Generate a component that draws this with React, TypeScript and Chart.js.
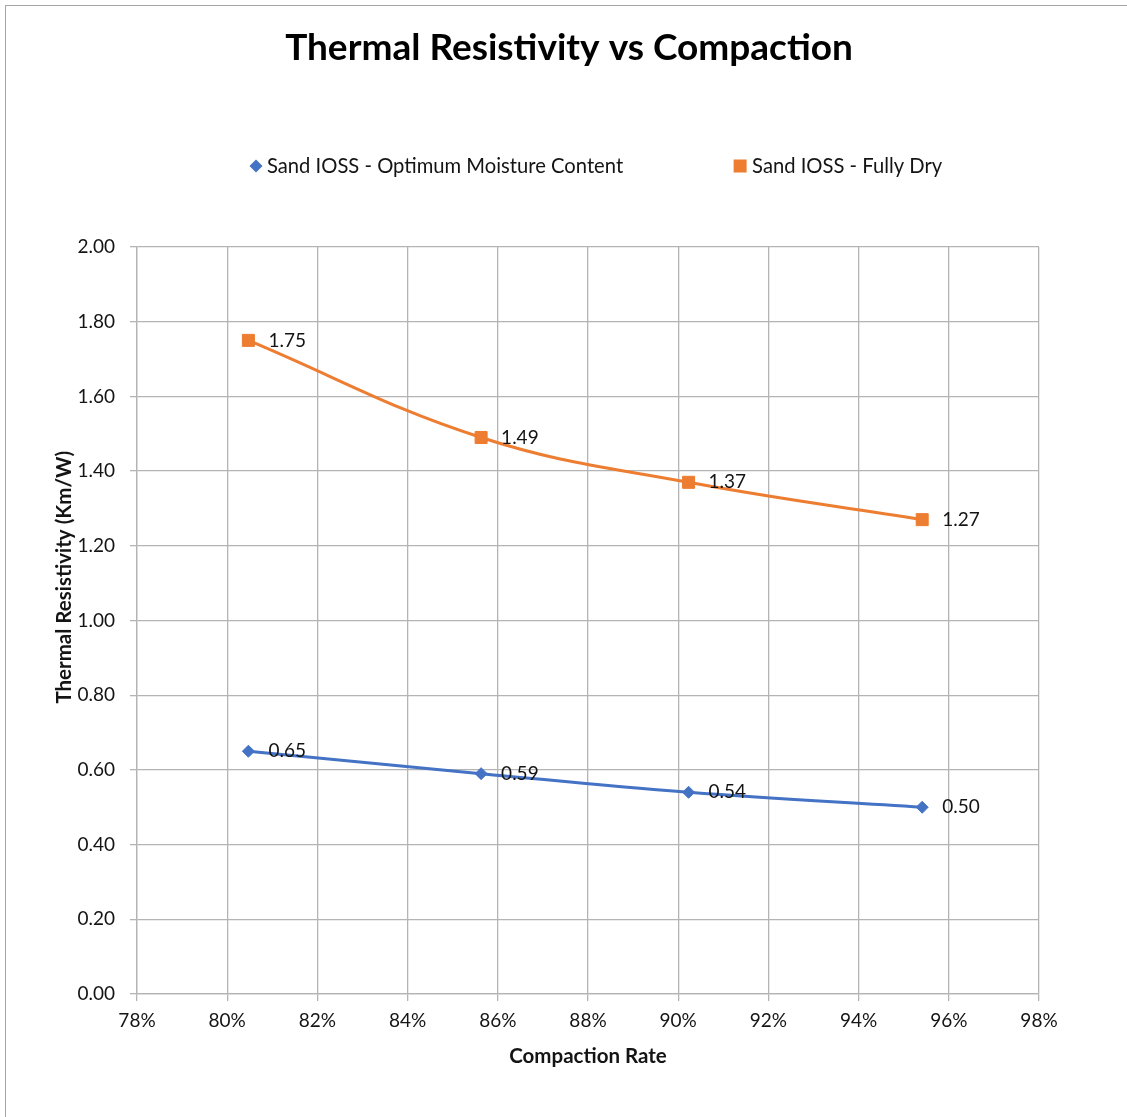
import React, { useEffect, useRef } from "react";
import { Chart, registerables } from "chart.js";

Chart.register(...registerables);

// ---- data ----
const chartTitle = "Thermal Resistivity vs Compaction";
const xAxisTitle = "Compaction Rate";
const yAxisTitle = "Thermal Resistivity (Km/W)";
const seriesNames = ["Sand IOSS - Optimum Moisture Content", "Sand IOSS - Fully Dry"];
const compactionRate = [0.8047, 0.8563, 0.9023, 0.9541];
const optimumMoisture = [0.65, 0.59, 0.54, 0.5];
const fullyDry = [1.75, 1.49, 1.37, 1.27];
const xTickRange = [0.78, 0.98];
const xTickStep = 0.02;
const yTickRange = [0, 2];
const yTickStep = 0.2;

const BLUE = "#4472C4";
const ORANGE = "#ED7D31";
const GRID = "#b4b4b4";
const TEXT = "#141414";
const FONT = "Lato, 'Open Sans', sans-serif";

const W = 1127;
const H = 1117;

const dataLabels = {
  id: "dataLabels",
  afterDatasetsDraw(chart: any) {
    const ctx = chart.ctx;
    ctx.save();
    ctx.font = `19px ${FONT}`;
    ctx.fillStyle = TEXT;
    ctx.textAlign = "left";
    ctx.textBaseline = "middle";
    chart.data.datasets.forEach((ds: any, i: number) => {
      const meta = chart.getDatasetMeta(i);
      meta.data.forEach((pt: any, j: number) => {
        ctx.fillText(Number(ds.data[j].y).toFixed(2), pt.x + 20, pt.y);
      });
    });
    ctx.restore();
  },
};

function drawMarker(ctx: any, style: string, cx: number, cy: number, color: string) {
  ctx.fillStyle = color;
  ctx.beginPath();
  if (style === "diamond") {
    const r = 6.5;
    ctx.moveTo(cx, cy - r);
    ctx.lineTo(cx + r, cy);
    ctx.lineTo(cx, cy + r);
    ctx.lineTo(cx - r, cy);
    ctx.closePath();
  } else {
    const s = 6.5;
    ctx.rect(cx - s, cy - s, 2 * s, 2 * s);
  }
  ctx.fill();
}

const headerPlugin = {
  id: "header",
  afterDraw(chart: any) {
    const ctx = chart.ctx;
    const area = chart.chartArea;
    ctx.save();
    // title
    ctx.font = `bold 37px ${FONT}`;
    ctx.fillStyle = "#000";
    ctx.textAlign = "center";
    ctx.textBaseline = "alphabetic";
    ctx.fillText(chartTitle, 569, 60);
    // legend
    const y = 166;
    ctx.font = `20.2px ${FONT}`;
    ctx.textBaseline = "middle";
    ctx.textAlign = "left";
    const m1 = area.left + 119;
    drawMarker(ctx, "diamond", m1, y, BLUE);
    ctx.fillStyle = TEXT;
    const t1x = m1 + 11;
    ctx.fillText(seriesNames[0], t1x, y);
    const t1end = t1x + ctx.measureText(seriesNames[0]).width;
    const m2 = t1end + 117;
    drawMarker(ctx, "square", m2, y, ORANGE);
    ctx.fillStyle = TEXT;
    ctx.fillText(seriesNames[1], m2 + 12, y);
    // y axis title
    ctx.translate(64, area.top + area.height * 0.442);
    ctx.rotate(-Math.PI / 2);
    ctx.font = `bold 20.5px ${FONT}`;
    ctx.fillStyle = TEXT;
    ctx.textAlign = "center";
    ctx.textBaseline = "middle";
    ctx.fillText(yAxisTitle, 0, 0);
    ctx.restore();
  },
};

export default function App() {
  const ref = useRef<HTMLCanvasElement | null>(null);

  useEffect(() => {
    if (!ref.current) return;
    const chart = new Chart(ref.current, {
      type: "line",
      data: {
        datasets: [
          {
            label: seriesNames[0],
            data: compactionRate.map((x, i) => ({ x, y: optimumMoisture[i] })),
            borderColor: BLUE,
            backgroundColor: BLUE,
            borderWidth: 3,
            tension: 0.4,
            pointStyle: "rectRot",
            pointRadius: 6,
            pointBorderWidth: 1,
            fill: false,
          },
          {
            label: seriesNames[1],
            data: compactionRate.map((x, i) => ({ x, y: fullyDry[i] })),
            borderColor: ORANGE,
            backgroundColor: ORANGE,
            borderWidth: 3,
            tension: 0.4,
            pointStyle: "rect",
            pointRadius: 8.5,
            pointBorderWidth: 1,
            fill: false,
          },
        ],
      },
      options: {
        responsive: false,
        animation: false,
        events: [],
        layout: { padding: { left: 0, right: 88, top: 247, bottom: 0 } },
        plugins: {
          legend: { display: false },
          tooltip: { enabled: false },
          title: { display: false },
        },
        scales: {
          x: {
            type: "linear",
            min: xTickRange[0],
            max: xTickRange[1],
            afterFit(scale: any) {
              scale.height = 123;
            },
            ticks: {
              stepSize: xTickStep,
              padding: 8,
              color: TEXT,
              font: { family: FONT, size: 19 },
              callback: (v: any) => `${Math.round(Number(v) * 100)}%`,
            },
            grid: { color: GRID, lineWidth: 1.3, tickLength: 7, drawTicks: true },
            border: { color: GRID, width: 1.3 },
            title: {
              display: true,
              text: xAxisTitle,
              color: TEXT,
              font: { family: FONT, size: 20.5, weight: "bold" },
              padding: { top: 0, bottom: 48 },
            },
          },
          y: {
            type: "linear",
            min: yTickRange[0],
            max: yTickRange[1],
            afterFit(scale: any) {
              scale.width = 137;
            },
            ticks: {
              stepSize: yTickStep,
              padding: 15,
              color: TEXT,
              font: { family: FONT, size: 19 },
              callback: (v: any) => Number(v).toFixed(2),
            },
            grid: { color: GRID, lineWidth: 1.3, tickLength: 7, drawTicks: true },
            border: { color: GRID, width: 1.3 },
          },
        },
      },
      plugins: [dataLabels, headerPlugin],
    } as any);
    return () => chart.destroy();
  }, []);

  return (
    <div
      style={{
        position: "absolute",
        left: 0,
        top: 0,
        width: W,
        height: H,
        overflow: "hidden",
        background: "#fff",
      }}
    >
      <div
        style={{
          position: "absolute",
          left: 5,
          top: 5,
          width: 1200,
          height: 1200,
          border: "1px solid #a6a6a6",
        }}
      />
      <canvas
        ref={ref}
        width={W}
        height={H}
        style={{ position: "absolute", left: 0, top: 0, width: W, height: H }}
      />
    </div>
  );
}
